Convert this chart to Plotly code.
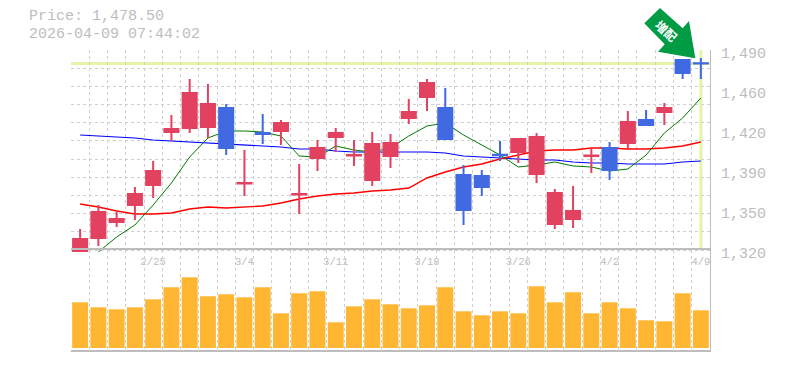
import plotly.graph_objects as go

dates = ["2/25", "3/4", "3/11", "3/18", "3/26", "4/2", "4/9"]
date_idx = [4, 9, 14, 19, 24, 29, 34]
price_ticks = [1320, 1354, 1388, 1422, 1456, 1490]
price_labels = ["1,320", "1,350", "1,390", "1,420", "1,460", "1,490"]
last_price = 1478.5

opens = [1319.15,1330.2,1343.8,1358.25,1375.25,1420.3,1423.7,1424.55,1440.7,1376.6,1419.45,1421.15,1367.2,1398.2,1416.05,1400.35,1379.5,1399.9,1432.2,1450.05,1440.7,1383.75,1382.9,1400.9,1403.3,1384.6,1342.1,1346.35,1399.9,1406.7,1410.95,1430.5,1437.3,1481.5,1478.8]
highs = [1337.85,1358.25,1354,1373.55,1395.65,1434.75,1465.35,1461.1,1444.1,1405,1435.6,1430.5,1393.1,1413.5,1423.7,1413.5,1420.3,1418.6,1448.35,1465.35,1457.7,1392.25,1388,1412.65,1414.35,1419.45,1371.85,1374.4,1406.7,1411.8,1438.15,1439,1444.95,1481.5,1483.2]
lows = [1319.15,1323.4,1339.55,1345.5,1364.2,1412.65,1419.45,1415.2,1400.75,1365.9,1410.1,1409.25,1350.6,1387.15,1403.3,1391.4,1374.4,1389.7,1427.1,1438.15,1414.35,1341.25,1365.9,1395.65,1393.95,1376.95,1337.85,1338.7,1385.45,1379.5,1406.7,1426.25,1426.25,1465.35,1465.35]
closes = [1329.35,1352.3,1346.35,1367.6,1387.15,1422.85,1453.45,1444.1,1406.7,1377.0,1418.6,1427.95,1367.6,1406.7,1419.45,1400.75,1410.1,1410.95,1437.3,1461.95,1414.35,1354,1373.55,1400.5,1414.35,1416.05,1368.45,1353.15,1400.3,1388,1428.8,1426.25,1440.7,1470.45,1478.5]

ma_short = [None,1318.3,1331.05,1341.25,1358.25,1376.95,1399.05,1415.2,1421.15,1421.15,1420.3,1416.9,1399.9,1399.05,1408.4,1405,1403.3,1406.7,1416.9,1425.4,1427.95,1417.75,1409.25,1400.75,1390.55,1392.25,1394.8,1391.4,1390.55,1387.15,1388.85,1400.75,1419.45,1432.2,1449.2]
ma_mid = [1359.1,1356.55,1353.15,1350.6,1350.6,1351.45,1354.85,1356.55,1355.7,1356.55,1357.4,1359.95,1363.35,1365.9,1367.6,1368.45,1370.15,1371,1372.7,1381.2,1386.3,1390.55,1393.1,1397.35,1400.75,1404.15,1405,1405,1406.7,1406.7,1405.85,1405.85,1406.7,1408.4,1411.8]
ma_long = [1417.75,1416.9,1416.05,1415.2,1413.5,1412.65,1411.8,1410.95,1410.1,1409.25,1408.4,1407.55,1405.85,1405.85,1404.15,1403.3,1403.3,1403.3,1403.3,1403.3,1402.45,1399.9,1399.05,1398.2,1397.35,1396.5,1396.5,1394.8,1393.95,1393.95,1393.1,1393.1,1393.1,1394.8,1395.65]
volumes = [45.7,40.7,38.7,40.7,48.7,60.7,70.7,51.7,53.7,50.7,60.7,34.7,54.7,56.7,25.7,41.7,48.7,43.7,39.7,42.7,60.7,36.7,32.7,36.7,34.7,61.7,45.7,55.7,34.7,45.7,39.7,27.7,26.7,54.7,37.7]

days = list(range(len(closes)))
GREY = "#BDBDBD"
GRID = "#CFCFCF"
MONO = "Liberation Mono"
W, H = 785, 370
L, R, T, B = 71, 75, 50, 20
PH = H - T - B
RED = "#E2425F"
BLUE = "#4169E1"
HL = "#E4F5A8"

fig = go.Figure()
for vals, col, w in [(ma_long, "#0000FF", 1.1), (ma_mid, "#FF0000", 1.4), (ma_short, "#007A00", 1.0)]:
    fig.add_trace(go.Scatter(x=days, y=vals, mode="lines", line=dict(color=col, width=w),
                             showlegend=False, hoverinfo="skip", xaxis="x", yaxis="y"))
fig.add_trace(go.Candlestick(x=days, open=opens, high=highs, low=lows, close=closes,
                             increasing=dict(line=dict(color=RED, width=2), fillcolor=RED),
                             decreasing=dict(line=dict(color=BLUE, width=2), fillcolor=BLUE),
                             whiskerwidth=0, showlegend=False, xaxis="x", yaxis="y3"))
fig.add_trace(go.Bar(x=days, y=volumes, marker=dict(color="#FFB733", line_width=0), width=0.875,
                     showlegend=False, xaxis="x2", yaxis="y2"))

x_range = [-0.5, len(days) - 0.5]
unit = 170 / 200
price_range = [1320 - 3 * unit, 1490]
top_dom = [1 - 203 / PH, 1]
vol_dom = [0, 100 / PH]
minor_x = dict(tick0=-0.5, dtick=1, showgrid=True, gridcolor=GRID, griddash="3px,3px", gridwidth=1, ticklen=0)

fig.update_layout(
    width=W, height=H, margin=dict(l=L, r=R, t=T, b=B, pad=0, autoexpand=False),
    paper_bgcolor="white", plot_bgcolor="rgba(0,0,0,0)", boxgap=0.23, boxgroupgap=0, bargap=0.12,
    xaxis=dict(domain=[0, 1], range=x_range, anchor="y", tickmode="array", tickvals=date_idx, ticktext=dates,
               showgrid=False, zeroline=False, showline=False, ticks="", rangeslider=dict(visible=False),
               tickfont=dict(family=MONO, size=10.5, color=GREY), minor=minor_x, ticklabelstandoff=0,
               automargin=False),
    xaxis2=dict(domain=[0, 1], range=x_range, anchor="y2", showticklabels=False, ticks="", showgrid=False,
                zeroline=False, showline=True, linecolor=GREY, linewidth=2, mirror=True, minor=minor_x,
                automargin=False),
    yaxis=dict(domain=top_dom, range=price_range, side="right", anchor="x", tickmode="array",
               tickvals=price_ticks, ticktext=price_labels, showgrid=False, zeroline=False, ticks="",
               tickfont=dict(family=MONO, size=15, color=GREY), ticklabelstandoff=7, ticklabelshift=3,
               minor=dict(tick0=1320, dtick=170 / 11, showgrid=True, gridcolor=GRID, griddash="3px,3px",
                          gridwidth=1, ticklen=0),
               showline=True, linecolor=GREY, linewidth=1, automargin=False),
    yaxis2=dict(domain=vol_dom, range=[-2, 98], side="right", anchor="x2", showticklabels=False, ticks="",
                showgrid=False, zeroline=False, showline=True, linecolor=GREY, linewidth=1, automargin=False),
    yaxis3=dict(range=price_range, overlaying="y", anchor="x", side="right", visible=False, showgrid=False,
                automargin=False),
    shapes=[
        dict(type="line", xref="paper", x0=0, x1=1, yref="y", y0=last_price, y1=last_price,
             line=dict(color=HL, width=3), layer="below"),
        dict(type="line", xref="x", x0=days[-1], x1=days[-1], yref="y", y0=1320, y1=1490,
             line=dict(color=HL, width=3), layer="below"),
        dict(type="path", xref="paper", yref="paper", layer="above", fillcolor="#009B45", line_width=0,
             path="M %f %f L %f %f L %f %f L %f %f L %f %f L %f %f L %f %f Z" % tuple(
                 v for px, py in [(660, 8), (682.7, 28.3), (689, 21), (695.3, 58.3), (658, 51.7), (664.7, 44.3), (644.3, 23.3)]
                 for v in ((px - L) / (W - L - R), 1 - (py - T) / PH))),
    ],
    annotations=[
        dict(text="Price: 1,478.50", xref="paper", yref="paper", xanchor="left", yanchor="middle",
             x=(27 - L) / (W - L - R), y=1 - (17 - T) / PH, showarrow=False,
             font=dict(family=MONO, size=15, color=GREY)),
        dict(text="2026-04-09 07:44:02", xref="paper", yref="paper", xanchor="left", yanchor="middle",
             x=(27 - L) / (W - L - R), y=1 - (34 - T) / PH, showarrow=False,
             font=dict(family=MONO, size=15, color=GREY)),
        dict(text="<b>増配</b>", xref="paper", yref="paper", xanchor="center", yanchor="middle",
             x=(667 - L) / (W - L - R), y=1 - (30 - T) / PH, showarrow=False, textangle=42,
             font=dict(family="Noto Sans CJK JP", size=12, color="white")),
    ],
)
fig.write_html("out.html", post_script="document.body.style.margin='0';",
               config=dict(displayModeBar=False))
